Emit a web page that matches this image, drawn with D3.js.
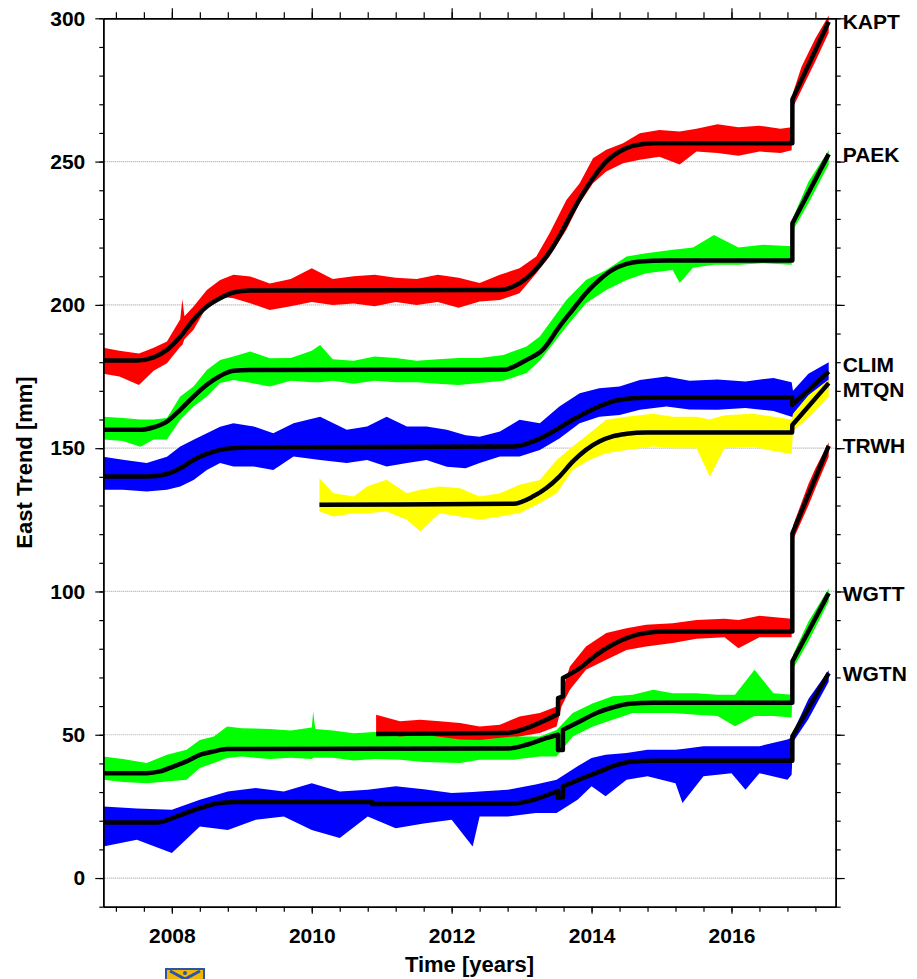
<!DOCTYPE html>
<html>
<head>
<meta charset="utf-8">
<script src="https://cdn.jsdelivr.net/npm/d3@7"></script>
<style>
  body { margin: 0; background: #fff; }
  text { font-family: "Liberation Sans", Arial, sans-serif; font-weight: bold; }
</style>
</head>
<body>
<svg id="chart" width="917" height="979"></svg>
<script>
// station names, top to bottom
const stations = ['KAPT', 'PAEK', 'CLIM', 'MTQN', 'TRWH', 'WGTT', 'WGTN'];
const seriesColors = ['#ff0000', '#00ff00', '#0000ff', '#ffff00', '#ff0000', '#00ff00', '#0000ff'];

// daily east positions, read as spread [year, low, high] in mm
const kaptObs = [[2007.02,176,185],[2007.25,175,184],[2007.53,172,183],[2007.74,177,185],[2007.93,179.6,187.2],
  [2008.12,185.4,195],[2008.15,186,202],[2008.18,188,196],[2008.31,191.3,199.4],[2008.5,199.4,205.2],[2008.69,202.9,208.7],
  [2008.88,202.3,210.5],[2009.12,200.6,209.9],[2009.4,198.2,207.5],[2009.7,199.5,209],[2010.0,201,212.8],[2010.3,200,209],
  [2010.6,200.5,210],[2010.9,199.5,210.5],[2011.2,201,209.5],[2011.5,200,209],[2011.8,201,210.5],[2012.1,199,209.5],
  [2012.4,201.2,207.6],[2012.69,201.7,210.5],[2012.97,204.1,212.8],[2013.21,211,216.9],[2013.4,216.9,225],
  [2013.64,226.2,236.6],[2013.83,235.5,242.4],[2014.02,242.4,251.2],[2014.21,246.5,254.1],[2014.45,249.4,256.4],
  [2014.69,250.6,259.9],[2014.97,251.7,261],[2015.26,249,260.5],[2015.5,253.5,261.5],[2015.8,253,263],
  [2016.1,252,262],[2016.4,253.5,262.5],[2016.7,253,261.5],[2016.86,254,262],[2016.88,269,274],
  [2017.0,275,283],[2017.2,285,293],[2017.39,295,301]];
const paekObs = [[2007.02,153,161],[2007.3,152.5,160.5],[2007.55,150.5,160],[2007.74,153,160],[2007.93,153,160.5],
  [2008.12,159.9,168],[2008.31,164.5,171.5],[2008.5,168,177.3],[2008.69,172.7,180.8],[2008.88,173.8,182],
  [2009.12,172.8,183.7],[2009.4,171.5,181.4],[2009.7,173.5,181.5],[2010.0,173,184],[2010.12,173,186],[2010.3,173.5,181],
  [2010.6,172.5,180.5],[2010.9,173.5,182],[2011.2,173,181.5],[2011.5,173,180.5],[2011.8,172.5,181],[2012.1,172,181.5],
  [2012.4,172.7,181.5],[2012.74,173.5,182.5],[2013.07,176.2,185.5],[2013.26,180.5,189],[2013.64,192.4,201.7],
  [2013.92,200.6,208.7],[2014.21,205.2,212.2],[2014.5,208.7,216.9],[2014.78,211,218],[2015.16,212.2,219.2],
  [2015.26,207.6,219.5],[2015.45,213,220],[2015.75,214,224.4],[2016.1,214,220],[2016.45,214.5,221],
  [2016.86,214,220.5],[2016.88,226,230.5],[2017.1,235.5,243],[2017.39,249,254]];
const climObs = [[2007.02,135.5,147],[2007.3,135.5,146],[2007.64,134.9,144.8],[2007.93,135.5,147],[2008.12,136.6,150.6],
  [2008.31,138.9,152.9],[2008.5,142.4,155.2],[2008.69,144.8,157.5],[2008.88,143.6,158.7],[2009.17,143.6,157.6],
  [2009.45,142.4,155.2],[2009.74,147.1,158.7],[2010.12,145.9,161],[2010.5,144.8,156.4],[2010.79,145.9,157.6],
  [2011.07,143.6,161],[2011.36,144.8,157.6],[2011.64,145.9,157.6],[2011.93,143.5,156.4],[2012.2,143,154.5],
  [2012.4,144.8,154],[2012.69,147.1,155.8],[2012.97,147.1,159.9],[2013.26,149.4,158.7],[2013.54,153.4,164.5],
  [2013.83,158.7,169.2],[2014.11,161,170.9],[2014.4,161.6,171.5],[2014.69,163.4,173.8],[2015.07,164.5,175],
  [2015.4,163.5,173.5],[2015.8,163.4,174],[2016.2,164,173.3],[2016.6,163,174.5],[2016.86,161,173],
  [2016.88,160.5,170],[2017.1,164.5,176],[2017.39,171,180]];
const mtqnObs = [[2010.11,127.9,139.5],[2010.31,126.2,134.3],[2010.6,127.3,133.1],[2010.79,127.3,136.6],
  [2011.07,127.9,139],[2011.36,125,134.3],[2011.55,121,135.5],[2011.83,127.3,136.6],[2012.12,126.2,136],
  [2012.4,125,133.1],[2012.69,126.2,134.3],[2012.97,127.3,137.2],[2013.26,130.8,138.9],[2013.5,134.3,145.9],
  [2013.73,142.4,150.6],[2013.97,145.9,155.2],[2014.21,148.2,159.9],[2014.5,149.4,161],[2014.88,150.6,162],
  [2015.16,150,161],[2015.5,150,161],[2015.69,140,160],[2015.9,150,161.5],[2016.3,150.5,162],[2016.6,149,161],
  [2016.86,148,160],[2016.88,156,162],[2017.1,160.5,168.5],[2017.39,168,174]];
const trwhObs = [[2010.92,49.4,57],[2011.26,48.8,54.7],[2011.55,48.3,55.2],[2011.83,48.3,54.7],[2012.12,47,54.1],
  [2012.4,46.5,52.9],[2012.69,47.1,53.5],[2012.97,49.4,56.4],[2013.26,50.6,57.6],[2013.5,52.9,59.9],
  [2013.57,59.9,64.5],[2013.69,65.7,73.8],[2013.92,72.7,80.8],[2014.21,76.2,85.5],[2014.5,79.6,87.2],
  [2014.78,80.8,88.4],[2015.16,82,88.9],[2015.5,83.5,90],[2015.9,84,90.5],[2016.1,80.2,90],[2016.4,84,91.5],
  [2016.86,84,90.5],[2016.88,118,123],[2017.1,130,137.5],[2017.2,136,143],[2017.39,147,152]];
const wgttObs = [[2007.02,34.3,42.4],[2007.3,33.5,41.5],[2007.64,33.1,40.1],[2007.93,33.7,43],[2008.21,34.3,44.8],
  [2008.4,38.4,48.2],[2008.6,40.1,49.4],[2008.79,41.9,52.9],[2009.0,42.4,52.3],[2009.4,41.5,52],[2009.7,42,51.5],
  [2010.0,41.5,52.5],[2010.02,42,58.1],[2010.05,42,52],[2010.3,42,51.5],[2010.6,41,50.5],[2010.9,41.5,51],
  [2011.26,41.3,49.4],[2011.6,40.5,50],[2012.12,40.1,48.3],[2012.4,41.3,48.2],[2012.88,41.3,49.4],
  [2013.26,42.4,49.4],[2013.5,42.4,51.7],[2013.73,49.4,57.6],[2014.02,52.9,61],[2014.3,55.2,63.4],
  [2014.59,57.6,64],[2014.88,57.6,65.7],[2015.16,57.6,64.5],[2015.5,57,64.5],[2015.8,56.5,64],[2016.05,53,64],
  [2016.33,56.5,72.7],[2016.6,56.5,64.5],[2016.86,56,64],[2016.88,73,78],[2017.1,82.5,89.5],[2017.39,96.5,101]];
const wgtnObs = [[2007.02,11,25],[2007.5,13.4,24.3],[2008.0,8.7,23.8],[2008.4,18,27.3],[2008.8,16.8,30.2],
  [2009.2,20.3,31.4],[2009.6,21.5,30.2],[2010.0,16.8,33.1],[2010.4,14,30.2],[2010.8,21.5,30.8],[2011.2,17.4,32],
  [2011.6,19,31],[2012.0,20.3,29.7],[2012.3,11,30],[2012.4,21.5,30.2],[2012.8,21.5,30.8],[2013.2,22.7,32.6],
  [2013.5,22.7,34.3],[2013.8,27.3,39],[2014.0,32,41.9],[2014.2,28.5,43],[2014.5,34.3,43.6],[2014.8,35.5,44.8],
  [2015.2,33.1,44.8],[2015.3,26.2,45],[2015.6,35.5,46],[2016.0,36.6,46],[2016.2,30.8,46],[2016.4,36.6,46],
  [2016.8,34.3,48.3],[2016.86,36,49],[2016.88,47.5,51],[2017.1,55.5,62.5],[2017.39,68.5,72.5]];

// fitted trend model [year, mm]; two years closer than 0.005 apart mark an offset
const kaptFit = [[2007.02,180.6],[2007.5,180.6],[2007.74,181.7],[2007.93,184.3],[2008.12,188.9],[2008.31,194.8],
  [2008.5,199.4],[2008.69,202.3],[2008.88,204.3],[2009.12,205],[2012.69,205.2],[2012.88,206.4],[2013.07,209.3],
  [2013.26,214],[2013.45,220.3],[2013.59,226.2],[2013.73,232.6],[2013.88,239],[2014.02,244.2],[2014.21,250],
  [2014.4,253.5],[2014.59,255.5],[2014.88,256.4],[2016.87,256.4],[2016.871,271.7],[2017.39,298.8]];
const paekFit = [[2007.02,156.4],[2007.55,156.4],[2007.74,157.3],[2007.93,159.3],[2008.12,163.4],[2008.31,168],
  [2008.5,172.1],[2008.69,175.2],[2008.88,177],[2009.12,177.3],[2012.74,177.4],[2013.07,180.8],[2013.3,184.3],
  [2013.54,192.4],[2013.73,198.3],[2013.92,204.1],[2014.11,208.7],[2014.3,212.2],[2014.5,214.3],[2014.69,215.1],
  [2015.07,215.5],[2016.87,215.5],[2016.871,228.5],[2017.39,252.6]];
const climFit = [[2007.02,140.1],[2007.64,140.1],[2007.93,141],[2008.12,143],[2008.31,145.9],[2008.5,148],
  [2008.69,149.4],[2008.88,150],[2009.12,150.3],[2012.88,150.6],[2013.16,152.3],[2013.45,155.8],[2013.73,159.9],
  [2014.02,163.6],[2014.3,166.3],[2014.59,167.4],[2014.97,167.7],[2016.867,167.7],[2016.87,165.1],[2017.39,176.7]];
const mtqnFit = [[2010.11,130.3],[2012.88,130.6],[2013.16,133.1],[2013.35,136],[2013.54,140.1],[2013.73,145.3],
  [2013.92,149.4],[2014.11,152.3],[2014.3,154.1],[2014.5,155],[2014.78,155.5],[2016.867,155.5],[2016.87,158.1],
  [2017.39,172.7]];
const trwhFit = [[2010.92,50.3],[2012.78,50.6],[2013.07,52.3],[2013.35,55.2],[2013.52,57.2],[2013.521,62.8],
  [2013.59,63.4],[2013.591,69.8],[2013.83,73.2],[2014.07,77.9],[2014.3,81.4],[2014.54,84.1],[2014.78,85.5],
  [2015.07,86],[2016.87,86],[2016.871,120.3],[2017.39,150.8]];
const wgttFit = [[2007.02,36.6],[2007.64,36.6],[2007.83,37.2],[2008.02,38.9],[2008.21,40.7],[2008.4,43],
  [2008.6,44.2],[2008.79,45],[2012.8,45.2],[2013.07,46.5],[2013.35,48.8],[2013.52,50],[2013.521,44.7],
  [2013.59,44.7],[2013.591,51.7],[2013.83,54.6],[2014.07,57.6],[2014.3,59.5],[2014.54,60.8],[2014.88,61.2],
  [2016.87,61.2],[2016.871,75.6],[2017.39,99.4]];
const wgtnFit = [[2007.02,19.4],[2007.79,19.4],[2008.07,21.5],[2008.4,24.4],[2008.69,26.2],[2008.93,26.5],
  [2010.86,26.5],[2010.863,25.8],[2012.84,25.9],[2013.17,27.3],[2013.5,30.2],[2013.52,30.4],[2013.521,28],
  [2013.59,28.2],[2013.591,32],[2013.88,34.9],[2014.12,37.2],[2014.36,39.5],[2014.6,40.7],[2014.9,40.9],
  [2016.87,40.9],[2016.871,49.4],[2017.39,71.5]];

// axis labels
const yTicks = [0, 50, 100, 150, 200, 250, 300];
const xTicks = [2008, 2010, 2012, 2014, 2016];

const observed = [kaptObs, paekObs, climObs, mtqnObs, trwhObs, wgttObs, wgtnObs];
const fitted = [kaptFit, paekFit, climFit, mtqnFit, trwhFit, wgttFit, wgtnFit];

const svg = d3.select('#chart');

const x = d3.scaleLinear().domain([2007.02, 2017.49]).range([103.3, 835.7]);
const y = d3.scaleLinear().domain([-10, 300]).range([906.7, 18.3]);

// horizontal grid
svg.append('g').selectAll('line')
    .data(yTicks.filter(d => d < 300))
    .join('line')
    .attr('x1', x.range()[0]).attr('x2', x.range()[1])
    .attr('y1', d => y(d)).attr('y2', d => y(d))
    .attr('stroke', '#aaa')
    .attr('stroke-width', 1.2)
    .attr('stroke-dasharray', '1,1');

// data spread per station
const band = d3.area()
    .x(d => x(d[0]))
    .y0(d => y(d[1]))
    .y1(d => y(d[2]));

svg.append('g').selectAll('path')
    .data(observed)
    .join('path')
    .attr('d', band)
    .attr('fill', (d, i) => seriesColors[i]);

// fitted model lines: smooth between offsets, straight across them
const fitLine = d3.line()
    .x(d => x(d[0]))
    .y(d => y(d[1]))
    .curve(d3.curveMonotoneX);

function fitPath(fit) {
  const pieces = [[fit[0]]];
  for (let i = 1; i < fit.length; i++) {
    if (fit[i][0] - fit[i - 1][0] < 0.005) pieces.push([fit[i]]);
    else pieces[pieces.length - 1].push(fit[i]);
  }
  return pieces.map((p, k) => {
    const s = fitLine(p.length > 1 ? p : [p[0], p[0]]);
    return k ? 'L' + s.slice(1) : s;
  }).join('');
}

svg.append('g').selectAll('path')
    .data(fitted)
    .join('path')
    .attr('d', fitPath)
    .attr('fill', 'none')
    .attr('stroke', '#000')
    .attr('stroke-width', 4.5)
    .attr('stroke-linejoin', 'round');

// axes
const minorY = d3.range(-10, 301, 10);
const minorX = d3.range(2007.2, 2017.3, 0.4);

function styleAxis(g) {
  g.select('.domain').attr('stroke-width', 1.5);
  g.selectAll('.tick line').attr('stroke-width', 1.2);
  g.selectAll('text').attr('font-size', 21).attr('font-family', '"Liberation Sans", Arial, sans-serif')
    .attr('font-weight', 'bold').attr('fill', '#000');
}

svg.append('g').attr('transform', `translate(${x.range()[0]},0)`)
    .call(d3.axisLeft(y).tickValues(minorY).tickSize(4).tickSizeOuter(0).tickFormat(''))
    .call(styleAxis);
svg.append('g').attr('transform', `translate(${x.range()[0]},0)`)
    .call(d3.axisLeft(y).tickValues(yTicks).tickSize(8).tickSizeOuter(0).tickPadding(10))
    .call(styleAxis);

svg.append('g').attr('transform', `translate(${x.range()[1]},0)`)
    .call(d3.axisRight(y).tickValues(minorY).tickSize(5).tickSizeOuter(0).tickFormat(''))
    .call(styleAxis);
svg.append('g').attr('transform', `translate(${x.range()[1]},0)`)
    .call(d3.axisRight(y).tickValues(yTicks).tickSize(9).tickSizeOuter(0).tickFormat(''))
    .call(styleAxis);

svg.append('g').attr('transform', `translate(0,${y.range()[1]})`)
    .call(d3.axisTop(x).tickValues(minorX).tickSize(6).tickSizeOuter(0).tickFormat(''))
    .call(styleAxis);
svg.append('g').attr('transform', `translate(0,${y.range()[1]})`)
    .call(d3.axisTop(x).tickValues(xTicks).tickSize(10).tickSizeOuter(0).tickFormat(''))
    .call(styleAxis);

svg.append('g').attr('transform', `translate(0,${y.range()[0]})`)
    .call(d3.axisBottom(x).tickValues(minorX).tickSize(5).tickSizeOuter(0).tickFormat(''))
    .call(styleAxis);
svg.append('g').attr('transform', `translate(0,${y.range()[0]})`)
    .call(d3.axisBottom(x).tickValues(xTicks).tickSize(7).tickSizeOuter(0).tickPadding(14).tickFormat(d3.format('d')))
    .call(styleAxis);

// station names at the end of each fit (CLIM and MTQN nearly coincide)
const labelNudge = { CLIM: -7, MTQN: 6 };
svg.append('g').selectAll('text')
    .data(fitted)
    .join('text')
    .attr('x', x.range()[1] + 7)
    .attr('y', (d, i) => y(d[d.length - 1][1]) + (labelNudge[stations[i]] || 0))
    .attr('dy', '0.36em')
    .attr('font-size', 21)
    .text((d, i) => stations[i]);

// axis titles
svg.append('text')
    .attr('x', (x.range()[0] + x.range()[1]) / 2)
    .attr('y', 972)
    .attr('text-anchor', 'middle')
    .attr('font-size', 22)
    .text('Time [years]');

svg.append('text')
    .attr('transform', `translate(32,${(y.range()[0] + y.range()[1]) / 2}) rotate(-90)`)
    .attr('text-anchor', 'middle')
    .attr('font-size', 22)
    .text('East Trend [mm]');

// crest peeking in at the bottom
const logo = svg.append('g').attr('transform', 'translate(166,969)');
logo.append('rect').attr('width', 38).attr('height', 12).attr('fill', '#f2b705')
    .attr('stroke', '#2a56a8').attr('stroke-width', 2);
logo.append('path').attr('d', 'M4,2 L19,10 L34,2').attr('fill', 'none')
    .attr('stroke', '#2a56a8').attr('stroke-width', 3);
logo.append('circle').attr('cx', 19).attr('cy', 4).attr('r', 2).attr('fill', '#2a56a8');
</script>
</body>
</html>
